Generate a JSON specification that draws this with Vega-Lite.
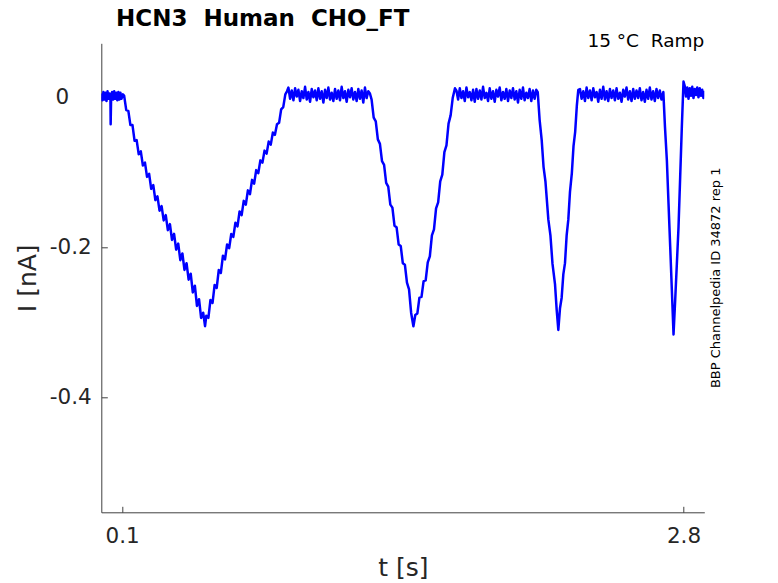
{
"$schema": "https://vega.github.io/schema/vega-lite/v6.json",
"autosize": {"type": "none"},
"width": 603, "height": 469,
"padding": {"left": 101.3, "top": 43.3, "right": 73.7, "bottom": 70.7},
"background": "white",
"config": {"view": {"stroke": null}, "font": "DejaVu Sans"},
"data": {"values": [
{"t":0.000,"i":0.005},{"t":0.005,"i":-0.004},{"t":0.010,"i":0.007},{"t":0.015,"i":-0.003},{"t":0.020,"i":0.006},{"t":0.025,"i":-0.005},{"t":0.030,"i":0.008},{"t":0.035,"i":-0.002},{"t":0.040,"i":0.005},{"t":0.044,"i":-0.003},{"t":0.045,"i":-0.036},{"t":0.047,"i":-0.004},{"t":0.052,"i":0.007},{"t":0.057,"i":-0.003},{"t":0.062,"i":0.008},{"t":0.067,"i":-0.002},{"t":0.072,"i":0.006},{"t":0.077,"i":-0.004},{"t":0.082,"i":0.007},{"t":0.087,"i":-0.003},{"t":0.092,"i":0.006},{"t":0.097,"i":-0.002},{"t":0.104,"i":0.004},
{"t":0.110,"i":0.002},{"t":0.120,"i":-0.017},{"t":0.130,"i":-0.018},{"t":0.140,"i":-0.037},{"t":0.150,"i":-0.037},{"t":0.160,"i":-0.058},{"t":0.170,"i":-0.057},{"t":0.180,"i":-0.076},{"t":0.190,"i":-0.072},{"t":0.200,"i":-0.091},{"t":0.210,"i":-0.087},{"t":0.220,"i":-0.106},{"t":0.230,"i":-0.102},{"t":0.240,"i":-0.122},{"t":0.250,"i":-0.117},{"t":0.260,"i":-0.137},{"t":0.270,"i":-0.132},{"t":0.280,"i":-0.151},{"t":0.290,"i":-0.145},{"t":0.300,"i":-0.164},{"t":0.310,"i":-0.157},{"t":0.320,"i":-0.177},{"t":0.330,"i":-0.169},{"t":0.340,"i":-0.190},{"t":0.350,"i":-0.182},{"t":0.360,"i":-0.203},{"t":0.370,"i":-0.195},{"t":0.380,"i":-0.217},{"t":0.390,"i":-0.208},{"t":0.400,"i":-0.230},{"t":0.410,"i":-0.221},{"t":0.420,"i":-0.243},{"t":0.430,"i":-0.235},{"t":0.440,"i":-0.260},{"t":0.450,"i":-0.251},{"t":0.460,"i":-0.278},{"t":0.470,"i":-0.269},{"t":0.480,"i":-0.294},{"t":0.490,"i":-0.287},{"t":0.499,"i":-0.305},
{"t":0.505,"i":-0.291},{"t":0.515,"i":-0.294},{"t":0.525,"i":-0.270},{"t":0.535,"i":-0.274},{"t":0.545,"i":-0.250},{"t":0.555,"i":-0.254},{"t":0.565,"i":-0.230},{"t":0.575,"i":-0.234},{"t":0.585,"i":-0.211},{"t":0.595,"i":-0.216},{"t":0.605,"i":-0.196},{"t":0.615,"i":-0.201},{"t":0.625,"i":-0.182},{"t":0.635,"i":-0.186},{"t":0.645,"i":-0.167},{"t":0.655,"i":-0.172},{"t":0.665,"i":-0.152},{"t":0.675,"i":-0.157},{"t":0.685,"i":-0.138},{"t":0.695,"i":-0.143},{"t":0.705,"i":-0.124},{"t":0.715,"i":-0.129},{"t":0.725,"i":-0.110},{"t":0.735,"i":-0.115},{"t":0.745,"i":-0.097},{"t":0.755,"i":-0.101},{"t":0.765,"i":-0.084},{"t":0.775,"i":-0.087},{"t":0.785,"i":-0.071},{"t":0.795,"i":-0.075},{"t":0.805,"i":-0.059},{"t":0.815,"i":-0.063},{"t":0.825,"i":-0.047},{"t":0.835,"i":-0.050},{"t":0.845,"i":-0.036},{"t":0.855,"i":-0.034},{"t":0.865,"i":-0.016},{"t":0.875,"i":-0.013},{"t":0.885,"i":0.004},{"t":0.893,"i":0.008},
{"t":0.900,"i":0.013},{"t":0.908,"i":-0.002},{"t":0.916,"i":0.009},{"t":0.924,"i":-0.004},{"t":0.932,"i":0.012},{"t":0.940,"i":0.001},{"t":0.948,"i":0.010},{"t":0.956,"i":-0.005},{"t":0.964,"i":0.008},{"t":0.972,"i":-0.001},{"t":0.980,"i":0.014},{"t":0.988,"i":-0.003},{"t":0.996,"i":0.007},{"t":1.004,"i":-0.006},{"t":1.012,"i":0.011},{"t":1.020,"i":0.000},{"t":1.028,"i":0.009},{"t":1.036,"i":-0.004},{"t":1.044,"i":0.012},{"t":1.052,"i":-0.002},{"t":1.060,"i":0.008},{"t":1.068,"i":-0.007},{"t":1.076,"i":0.010},{"t":1.084,"i":-0.001},{"t":1.092,"i":0.013},{"t":1.100,"i":-0.003},{"t":1.108,"i":0.006},{"t":1.116,"i":-0.005},{"t":1.124,"i":0.011},{"t":1.132,"i":-0.002},{"t":1.140,"i":0.009},{"t":1.148,"i":-0.004},{"t":1.156,"i":0.014},{"t":1.164,"i":-0.001},{"t":1.172,"i":0.008},{"t":1.180,"i":-0.006},{"t":1.188,"i":0.010},{"t":1.196,"i":0.000},{"t":1.204,"i":0.012},{"t":1.212,"i":-0.003},{"t":1.220,"i":0.007},{"t":1.228,"i":-0.005},{"t":1.236,"i":0.011},{"t":1.244,"i":-0.002},{"t":1.252,"i":0.009},{"t":1.260,"i":-0.007},{"t":1.268,"i":0.013},{"t":1.276,"i":-0.001},{"t":1.284,"i":0.008},{"t":1.292,"i":0.005},
{"t":1.300,"i":-0.003},{"t":1.310,"i":-0.027},{"t":1.320,"i":-0.032},{"t":1.330,"i":-0.056},{"t":1.340,"i":-0.062},{"t":1.350,"i":-0.085},{"t":1.360,"i":-0.090},{"t":1.370,"i":-0.114},{"t":1.380,"i":-0.119},{"t":1.390,"i":-0.143},{"t":1.400,"i":-0.147},{"t":1.410,"i":-0.171},{"t":1.420,"i":-0.173},{"t":1.430,"i":-0.196},{"t":1.440,"i":-0.198},{"t":1.450,"i":-0.221},{"t":1.460,"i":-0.223},{"t":1.470,"i":-0.247},{"t":1.480,"i":-0.256},{"t":1.490,"i":-0.287},{"t":1.501,"i":-0.305},
{"t":1.510,"i":-0.290},{"t":1.520,"i":-0.288},{"t":1.530,"i":-0.267},{"t":1.540,"i":-0.266},{"t":1.550,"i":-0.245},{"t":1.560,"i":-0.244},{"t":1.570,"i":-0.220},{"t":1.580,"i":-0.212},{"t":1.590,"i":-0.184},{"t":1.600,"i":-0.176},{"t":1.610,"i":-0.148},{"t":1.620,"i":-0.140},{"t":1.630,"i":-0.112},{"t":1.640,"i":-0.103},{"t":1.650,"i":-0.073},{"t":1.660,"i":-0.064},{"t":1.670,"i":-0.035},{"t":1.680,"i":-0.024},{"t":1.690,"i":-0.001},{"t":1.701,"i":0.012},
{"t":1.708,"i":0.009},{"t":1.716,"i":-0.003},{"t":1.724,"i":0.012},{"t":1.732,"i":-0.001},{"t":1.740,"i":0.008},{"t":1.748,"i":-0.005},{"t":1.756,"i":0.013},{"t":1.764,"i":0.000},{"t":1.772,"i":0.007},{"t":1.780,"i":-0.004},{"t":1.788,"i":0.010},{"t":1.796,"i":-0.006},{"t":1.804,"i":0.011},{"t":1.812,"i":-0.002},{"t":1.820,"i":0.009},{"t":1.828,"i":-0.003},{"t":1.836,"i":0.014},{"t":1.844,"i":-0.001},{"t":1.852,"i":0.006},{"t":1.860,"i":-0.005},{"t":1.868,"i":0.012},{"t":1.876,"i":-0.002},{"t":1.884,"i":0.008},{"t":1.892,"i":-0.006},{"t":1.900,"i":0.010},{"t":1.908,"i":0.001},{"t":1.916,"i":0.013},{"t":1.924,"i":-0.004},{"t":1.932,"i":0.007},{"t":1.940,"i":-0.002},{"t":1.948,"i":0.011},{"t":1.956,"i":-0.005},{"t":1.964,"i":0.009},{"t":1.972,"i":-0.001},{"t":1.980,"i":0.012},{"t":1.988,"i":-0.003},{"t":1.996,"i":0.008},{"t":2.004,"i":-0.007},{"t":2.012,"i":0.010},{"t":2.020,"i":-0.002},{"t":2.028,"i":0.013},{"t":2.036,"i":-0.004},{"t":2.044,"i":0.006},{"t":2.052,"i":-0.001},{"t":2.060,"i":0.011},{"t":2.068,"i":-0.005},{"t":2.076,"i":0.009},{"t":2.084,"i":-0.002},{"t":2.092,"i":0.010},{"t":2.099,"i":0.007},
{"t":2.108,"i":-0.030},{"t":2.118,"i":-0.057},{"t":2.127,"i":-0.093},{"t":2.136,"i":-0.112},{"t":2.150,"i":-0.163},{"t":2.160,"i":-0.184},{"t":2.170,"i":-0.222},{"t":2.182,"i":-0.249},{"t":2.190,"i":-0.283},{"t":2.198,"i":-0.310},
{"t":2.206,"i":-0.281},{"t":2.214,"i":-0.267},{"t":2.222,"i":-0.236},{"t":2.230,"i":-0.221},{"t":2.238,"i":-0.184},{"t":2.246,"i":-0.163},{"t":2.254,"i":-0.126},{"t":2.263,"i":-0.101},{"t":2.271,"i":-0.065},{"t":2.279,"i":-0.046},{"t":2.287,"i":-0.011},{"t":2.294,"i":0.010},
{"t":2.302,"i":0.011},{"t":2.310,"i":-0.002},{"t":2.318,"i":0.008},{"t":2.326,"i":-0.005},{"t":2.334,"i":0.013},{"t":2.342,"i":-0.001},{"t":2.350,"i":0.009},{"t":2.358,"i":-0.004},{"t":2.366,"i":0.012},{"t":2.374,"i":0.000},{"t":2.382,"i":0.007},{"t":2.390,"i":-0.006},{"t":2.398,"i":0.010},{"t":2.406,"i":-0.002},{"t":2.414,"i":0.014},{"t":2.422,"i":-0.003},{"t":2.430,"i":0.008},{"t":2.438,"i":-0.005},{"t":2.446,"i":0.011},{"t":2.454,"i":-0.001},{"t":2.462,"i":0.009},{"t":2.470,"i":-0.004},{"t":2.478,"i":0.012},{"t":2.486,"i":-0.002},{"t":2.494,"i":0.006},{"t":2.502,"i":-0.006},{"t":2.510,"i":0.010},{"t":2.518,"i":0.001},{"t":2.526,"i":0.013},{"t":2.534,"i":-0.003},{"t":2.542,"i":0.008},{"t":2.550,"i":-0.005},{"t":2.558,"i":0.011},{"t":2.566,"i":-0.002},{"t":2.574,"i":0.009},{"t":2.582,"i":-0.001},{"t":2.590,"i":0.012},{"t":2.598,"i":-0.004},{"t":2.606,"i":0.007},{"t":2.614,"i":-0.006},{"t":2.622,"i":0.010},{"t":2.630,"i":-0.002},{"t":2.638,"i":0.013},{"t":2.646,"i":-0.003},{"t":2.654,"i":0.008},{"t":2.662,"i":-0.005},{"t":2.670,"i":0.011},{"t":2.678,"i":-0.001},{"t":2.686,"i":0.009},{"t":2.694,"i":-0.003},{"t":2.703,"i":0.007},
{"t":2.711,"i":-0.040},{"t":2.720,"i":-0.084},{"t":2.728,"i":-0.142},{"t":2.736,"i":-0.199},{"t":2.744,"i":-0.257},{"t":2.752,"i":-0.316},
{"t":2.760,"i":-0.270},{"t":2.768,"i":-0.222},{"t":2.776,"i":-0.173},{"t":2.784,"i":-0.106},{"t":2.792,"i":-0.039},{"t":2.800,"i":0.021},
{"t":2.806,"i":0.015},{"t":2.812,"i":0.001},{"t":2.818,"i":0.013},{"t":2.824,"i":-0.002},{"t":2.830,"i":0.012},{"t":2.836,"i":0.002},{"t":2.842,"i":0.014},{"t":2.848,"i":-0.001},{"t":2.854,"i":0.011},{"t":2.860,"i":0.003},{"t":2.866,"i":0.013},{"t":2.872,"i":0.000},{"t":2.878,"i":0.012},{"t":2.884,"i":0.002},{"t":2.890,"i":0.010},{"t":2.896,"i":-0.001},{"t":2.900,"i":0.009}
]},
"layer": [
{"mark": {"type": "line", "color": "#0000ff", "strokeWidth": 2.5, "strokeJoin": "round", "clip": true},
 "encoding": {
  "x": {"field": "t", "type": "quantitative",
        "scale": {"domain": [0, 2.9], "nice": false, "zero": false},
        "axis": {"values": [0.1, 2.8], "format": ".1f", "title": "t [s]", "grid": false, "tickSize": -6, "labelPadding": 19, "labelFlush": false, "labelFontSize": 21.5, "labelColor": "#262626", "labelBaseline": "top", "domainColor": "#404040", "tickColor": "#404040", "titleFontSize": 25, "titleFontWeight": "normal", "titleColor": "#262626", "titleBaseline": "alphabetic", "titleY": 63}},
  "y": {"field": "i", "type": "quantitative",
        "scale": {"domain": [-0.553, 0.072], "nice": false, "zero": false},
        "axis": {"values": [0, -0.2, -0.4], "labelExpr": "datum.value == 0 ? '0' : '-' + format(-datum.value, '.1f')", "title": "I [nA]", "grid": false, "tickSize": -6, "labelPadding": {"condition": {"test": "datum.value == 0", "value": 38.5}, "value": 16}, "labelFontSize": 21.5, "labelColor": "#262626", "domainColor": "#404040", "tickColor": "#404040", "titleFontSize": 25, "titleFontWeight": "normal", "titleColor": "#262626", "titleAngle": 270, "titleBaseline": "alphabetic", "titleAlign": "center", "titleX": -66, "titleY": 234.5}}
 }},
{"data": {"values": [{"label": "HCN3\u00a0 Human\u00a0 CHO_FT"}]},
 "mark": {"type": "text", "align": "left", "baseline": "alphabetic", "dx": 14.7, "dy": -17.3, "fontSize": 23, "fontWeight": "bold", "color": "#000000"},
 "encoding": {"x": {"datum": 0}, "y": {"datum": 0.072}, "text": {"field": "label"}}},
{"data": {"values": [{"label": "15 °C\u00a0 Ramp"}]},
 "mark": {"type": "text", "align": "right", "baseline": "alphabetic", "dy": 3.5, "fontSize": 18.5, "color": "#000000"},
 "encoding": {"x": {"datum": 2.9}, "y": {"datum": 0.072}, "text": {"field": "label"}}},
{"data": {"values": [{"label": "BBP Channelpedia ID 34872 rep 1"}]},
 "mark": {"type": "text", "angle": 270, "align": "center", "baseline": "alphabetic", "dy": 15.7, "fontSize": 13, "color": "#000000"},
 "encoding": {"x": {"datum": 2.9}, "y": {"datum": -0.2405}, "text": {"field": "label"}}}
]
}
